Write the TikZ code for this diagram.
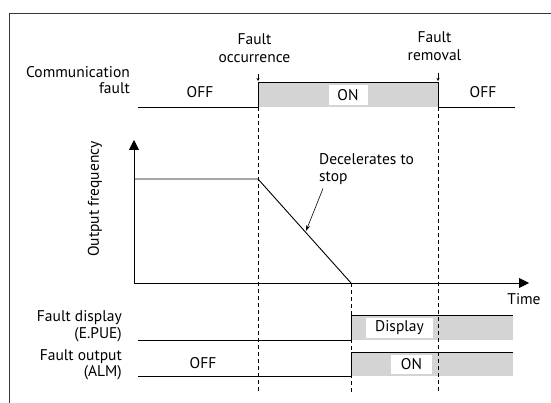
\documentclass[tikz,border=0pt]{standalone}
\usepackage{fontspec}
\setmainfont{PT Sans}
\usetikzlibrary{arrows.meta}
\definecolor{sigfill}{RGB}{212,212,212}
\definecolor{framegray}{RGB}{55,55,55}

\begin{document}
\begin{tikzpicture}[x=1pt,y=-1pt,
  font=\fontsize{15.5}{16.5}\selectfont,
  sig/.style={black, line width=0.9pt},
  guide/.style={black, line width=0.6pt, dash pattern=on 4pt off 3pt},
  whitebox/.style={fill=white, inner sep=0pt, minimum height=20pt},
  lbl/.style={align=right, anchor=east, inner sep=0pt},
  faultarrow/.style={line width=0.5pt, -{Stealth[length=3pt,width=3pt]}}]
  \useasboundingbox (0,0) rectangle (551,403);

  % Frame round the picture
  \draw[framegray, line width=0.8pt] (9,403) -- (9,13) -- (551,13);

  % Grey areas of the ON states
  \fill[sigfill] (258,82) rectangle (438,107);
  \fill[sigfill] (351,315) rectangle (513,340);
  \fill[sigfill] (351,352) rectangle (513,376);

  % Time marks
  \draw[guide] (258,107) -- (258,392);
  \draw[guide] (438,107) -- (438,392);
  \draw[guide] (351,283) -- (351,392);

  % Communication fault
  \node[lbl] (commtxt) at (130,80) {Communication\\fault};
  \draw[sig] (138,107) -- (258,107) -- (258,82) -- (438,82) -- (438,107) -- (515,107);
  \node (offone) at (200,92) {OFF};
  \node[whitebox, minimum width=39pt] (onone) at (348,95) {ON};
  \node (offtwo) at (483,92) {OFF};

  \node[align=center, inner sep=0pt, font=\fontsize{15.5}{18}\selectfont] (occtxt) at (254.5,48) {Fault\\occurrence};
  \coordinate (occtip) at (258,81);
  \draw[faultarrow] (258,74) -- (occtip);
  \node[align=center, inner sep=0pt, font=\fontsize{15.5}{18.5}\selectfont] (remtxt) at (434.5,46) {Fault\\removal};
  \coordinate (remtip) at (438,81);
  \draw[faultarrow] (438,73) -- (remtip);

  % Output frequency
  \coordinate (orig) at (134,283);
  \draw[sig, -{Triangle[length=10pt,width=10pt]}] (orig) -- (134,140);
  \draw[sig, -{Triangle[length=10pt,width=10pt]}] (orig) -- (529,283);
  \node[rotate=90] (freqtxt) at (95,199) {Output frequency};
  \node (timetxt) at (524,299) {Time};
  \draw[sig] (134,179) -- (258,179) -- (351,283);

  \node[align=left, anchor=west, inner sep=0pt] (dectxt) at (319,169) {Decelerates to\\stop};
  \coordinate (dectip) at (306,231);
  \draw[line width=0.6pt, -{Stealth[length=6pt,width=4pt]}] ([xshift=4pt,yshift=-4pt]dectxt.south west) -- (dectip);

  % Fault display
  \node[lbl] (disptxt) at (122,326) {Fault display\\(E.PUE)};
  \draw[sig] (138,340) -- (351,340) -- (351,315) -- (513,315);
  \node[whitebox, minimum width=67pt] (dispbox) at (399.5,328) {Display};

  % Fault output
  \node[lbl] (outtxt) at (122,365) {Fault output\\(ALM)};
  \draw[sig] (138,376) -- (351,376) -- (351,352) -- (513,352);
  \node (offthree) at (203,363) {OFF};
  \node[whitebox, minimum width=41pt, minimum height=19pt] (ontwo) at (411.5,364.5) {ON};
\end{tikzpicture}
\end{document}
